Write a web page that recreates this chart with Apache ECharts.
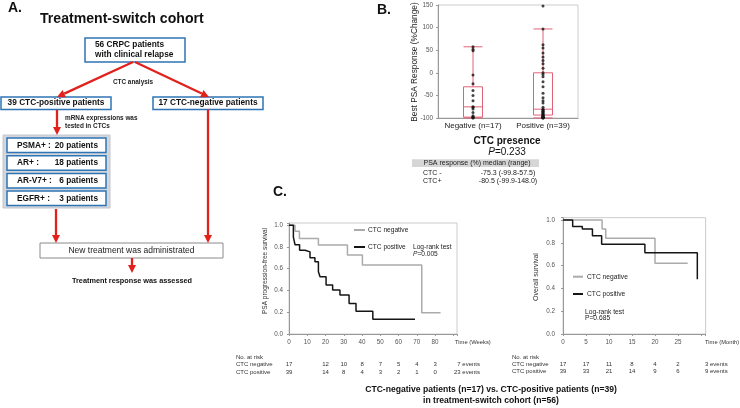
<!DOCTYPE html>
<html><head><meta charset="utf-8">
<script src="https://cdn.jsdelivr.net/npm/echarts@6/dist/echarts.min.js"></script>
<style>html,body{margin:0;padding:0;background:#fff}#c{width:740px;height:408px}</style>
</head><body><div id="c"></div>
<script>
// ---------- Panel B data ----------
const boxCategories = ['Negative (n=17)', 'Positive (n=39)'];
// [min, Q1, median, Q3, max(whisker)]
const negBoxStats = [-99.8, -98, -75.3, -31, 57.5];
const posBoxStats = [-99.9, -93.5, -80.5, 0, 97];
const negResponses = [57.5, 52, 49, -5, -24, -39, -50, -62, -75.3, -76, -80, -88, -95, -97, -98.5, -99.5, -99.8];
const posResponses = [148, 97, 62, 55, 44, 35, 27, 20, 10, 0, -4, -9, -20, -31, -45, -55, -62, -67, -76, -80.5,
  -82, -84, -85, -87, -88, -90, -91, -93, -93.5, -95, -96, -97, -98, -98.5, -99, -99.3, -99.5, -99.7, -99.9];
const boxYTicks = [-100, 150, 50];

// ---------- Panel C, PSA progression-free survival (weeks) ----------
const pfsNegTimes = [0, 3.3, 5.7, 16.1, 32, 40.2, 72.7, 83];
const pfsNegSurv  = [1, 0.945, 0.878, 0.817, 0.725, 0.633, 0.196, 0.196];
const pfsPosTimes = [0, 2.4, 3.3, 5.8, 8.8, 11.5, 14.2, 16.1, 17.0, 20.3, 23.9, 27.9, 32.9, 36.7, 45.9, 69];
const pfsPosSurv  = [1, 0.89, 0.82, 0.77, 0.755, 0.70, 0.664, 0.572, 0.526, 0.45, 0.404, 0.358, 0.28, 0.21, 0.135, 0.135];
const pfsRiskTimes = [0, 20, 30, 40, 50, 60, 70, 80];
const pfsRiskNeg = [17, 12, 10, 8, 7, 5, 4, 3];
const pfsRiskPos = [39, 14, 8, 4, 3, 2, 1, 0];

// ---------- Panel C, overall survival (months) ----------
const osNegTimes = [0, 8.5, 9.3, 20, 27.1];
const osNegSurv  = [1, 0.92, 0.84, 0.62, 0.62];
const osPosTimes = [0, 2.1, 4.2, 6.4, 8.4, 17.8, 29.2];
const osPosSurv  = [1, 0.942, 0.92, 0.862, 0.787, 0.713, 0.48];
const osRiskTimes = [0, 5, 10, 15, 20, 25];
const osRiskNeg = [17, 17, 11, 8, 4, 2];
const osRiskPos = [39, 33, 21, 14, 9, 6];

const FONT = '"Liberation Sans", Arial, sans-serif';
const RED = '#e3211c', BLUE = '#2f74b5', PINK = '#e06377', GRAYL = '#ababab', BLK = '#151515';

function zip(a, b) { return a.map((v, i) => [v, b[i]]); }
function txt(x, y, text, size, o) {
  o = o || {};
  const st = { text: text, fontSize: size, fontFamily: FONT, fontWeight: o.bold ? 'bold' : 'normal',
    fontStyle: o.italic ? 'italic' : 'normal', fill: o.color || '#111',
    align: o.align || 'left', verticalAlign: 'middle', textAlign: o.align || 'left', textVerticalAlign: 'middle' };
  if (o.rich) st.rich = o.rich;
  return { type: 'text', x: x, y: y, rotation: o.rot || 0, silent: true, z: 20, style: st };
}
function rect(x, y, w, h, fill, stroke, lw) {
  return { type: 'rect', shape: { x: x, y: y, width: w, height: h }, style: { fill: fill, stroke: stroke, lineWidth: lw || 0 }, silent: true, z: 5 };
}
function seg(x1, y1, x2, y2, stroke, lw) {
  return { type: 'line', shape: { x1: x1, y1: y1, x2: x2, y2: y2 }, style: { stroke: stroke, lineWidth: lw }, silent: true, z: 6 };
}
function arrow(x1, y1, x2, y2) {
  const a = Math.atan2(y2 - y1, x2 - x1), L = 8, W = 4;
  const bx = x2 - L * Math.cos(a), by = y2 - L * Math.sin(a);
  const px = -Math.sin(a) * W, py = Math.cos(a) * W;
  return [seg(x1, y1, bx, by, RED, 2.3),
    { type: 'polygon', shape: { points: [[x2, y2], [bx + px, by + py], [bx - px, by - py]] }, style: { fill: RED }, silent: true, z: 6 }];
}

const chart = echarts.init(document.getElementById('c'), null, { renderer: 'canvas' });

const axLabel = { fontSize: 6.3, color: '#555', fontFamily: FONT };
const axLine = { show: true, onZero: false, lineStyle: { color: '#999', width: 1 } };
const kmY = (gi) => ({ type: 'value', gridIndex: gi, min: 0, max: 1.02, interval: 0.2,
  axisLine: axLine, axisTick: { show: true, length: 2, lineStyle: { color: '#999' } }, splitLine: { show: false },
  axisLabel: Object.assign({}, axLabel, { margin: gi === 1 ? 6 : 8, formatter: v => v > 1.001 ? '' : v.toFixed(1) }) });

chart.setOption({
  animation: false,
  backgroundColor: '#fff',
  grid: [
    { left: 438, top: 5, width: 140, height: 113, show: true, borderColor: '#ccc', borderWidth: 1, backgroundColor: 'transparent' },
    { left: 289, top: 223, width: 168, height: 111, show: true, borderColor: '#ccc', borderWidth: 1, backgroundColor: 'transparent' },
    { left: 563, top: 217.7, width: 142.6, height: 116.3, show: true, borderColor: '#ccc', borderWidth: 1, backgroundColor: 'transparent' }
  ],
  xAxis: [
    { type: 'category', gridIndex: 0, data: boxCategories, axisLine: axLine, axisTick: { show: false },
      axisLabel: { fontSize: 8, color: '#222', fontFamily: FONT, margin: 4, interval: 0 } },
    { type: 'value', gridIndex: 1, min: 0, max: 92, interval: 10, axisLine: axLine,
      axisTick: { show: true, length: 2, lineStyle: { color: '#999' } }, splitLine: { show: false },
      axisLabel: Object.assign({}, axLabel, { margin: 5, formatter: v => v <= 80 ? String(v) : '' }) },
    { type: 'value', gridIndex: 2, min: 0, max: 31, interval: 5, axisLine: axLine,
      axisTick: { show: true, length: 2, lineStyle: { color: '#999' } }, splitLine: { show: false },
      axisLabel: Object.assign({}, axLabel, { margin: 5, formatter: v => v <= 25 ? String(v) : '' }) }
  ],
  yAxis: [
    { type: 'value', gridIndex: 0, min: boxYTicks[0], max: boxYTicks[1], interval: boxYTicks[2],
      axisLine: axLine, axisTick: { show: true, length: 2, lineStyle: { color: '#999' } }, splitLine: { show: false },
      axisLabel: Object.assign({}, axLabel, { margin: 5 }) },
    kmY(1), kmY(2)
  ],
  series: [
    { type: 'boxplot', xAxisIndex: 0, yAxisIndex: 0, boxWidth: [19, 19], data: [negBoxStats, posBoxStats],
      itemStyle: { color: '#fff', borderColor: PINK, borderWidth: 1 }, z: 2 },
    { type: 'scatter', xAxisIndex: 0, yAxisIndex: 0, symbolSize: 3, itemStyle: { color: BLK }, z: 5,
      data: negResponses.map(v => [0, v]).concat(posResponses.map(v => [1, v])) },
    { type: 'line', xAxisIndex: 1, yAxisIndex: 1, step: 'end', showSymbol: false, data: zip(pfsNegTimes, pfsNegSurv),
      lineStyle: { color: GRAYL, width: 1.5 }, itemStyle: { color: GRAYL }, z: 3 },
    { type: 'line', xAxisIndex: 1, yAxisIndex: 1, step: 'end', showSymbol: false, data: zip(pfsPosTimes, pfsPosSurv),
      lineStyle: { color: BLK, width: 1.5 }, itemStyle: { color: BLK }, z: 4 },
    { type: 'line', xAxisIndex: 2, yAxisIndex: 2, step: 'end', showSymbol: false, data: zip(osNegTimes, osNegSurv),
      lineStyle: { color: GRAYL, width: 1.5 }, itemStyle: { color: GRAYL }, z: 3 },
    { type: 'line', xAxisIndex: 2, yAxisIndex: 2, step: 'end', showSymbol: false, data: zip(osPosTimes, osPosSurv),
      lineStyle: { color: BLK, width: 1.5 }, itemStyle: { color: BLK }, z: 4 }
  ]
});

// ---------- annotations / flowchart ----------
const g = [];
// Panel labels
g.push(txt(8, 8, 'A.', 14, { bold: true }));
g.push(txt(377, 10, 'B.', 14, { bold: true }));
g.push(txt(273, 192, 'C.', 14, { bold: true }));
// Panel A
g.push(txt(40, 19, 'Treatment-switch cohort', 14.1, { bold: true }));
g.push(rect(85, 38, 100, 24, '#fff', BLUE, 1.5));
g.push(txt(95, 45, '56 CRPC patients', 8.3, { bold: true }));
g.push(txt(95, 55, 'with clinical relapse', 8.3, { bold: true }));
g.push(...arrow(133, 62, 57, 97));
g.push(...arrow(135, 62, 209, 97));
g.push(txt(133, 82, 'CTC analysis', 6.4, { bold: true, align: 'center', color: '#222' }));
g.push(rect(1, 97, 110, 12.5, '#fff', BLUE, 1.5));
g.push(txt(56, 103.2, '39 CTC-positive patients', 8.3, { bold: true, align: 'center' }));
g.push(rect(153, 97, 110, 12.5, '#fff', BLUE, 1.5));
g.push(txt(208, 103.2, '17 CTC-negative patients', 8.3, { bold: true, align: 'center' }));
g.push(...arrow(57, 110, 57, 135));
g.push(txt(65, 118, 'mRNA expressions was', 6.4, { bold: true, color: '#222' }));
g.push(txt(65, 126, 'tested in CTCs', 6.4, { bold: true, color: '#222' }));
g.push(rect(3, 135, 107, 73, '#d3d7dd', '#c2c6cc', 1));
const markerRows = [['PSMA+ :', '20 patients'], ['AR+ :', '18 patients'], ['AR-V7+ :', '6 patients'], ['EGFR+ :', '3 patients']];
const rowTops = [138, 155.7, 173.4, 191];
markerRows.forEach((r, i) => {
  g.push(rect(7, rowTops[i], 99, 14.5, '#fff', BLUE, 1.5));
  g.push(txt(17, rowTops[i] + 7.4, r[0], 8.3, { bold: true }));
  g.push(txt(98, rowTops[i] + 7.4, r[1], 8.3, { bold: true, align: 'right' }));
});
g.push(...arrow(56, 209, 56, 243));
g.push(...arrow(208, 109.5, 208, 243));
g.push(rect(40, 243, 183, 15, '#fff', '#8a8a8a', 1));
g.push(txt(131.5, 250.7, 'New treatment was administrated', 8.5, { align: 'center', color: '#222' }));
g.push(...arrow(132, 258, 132, 273));
g.push(txt(132, 281, 'Treatment response was assessed', 7.3, { bold: true, align: 'center' }));

// Panel B texts
g.push(txt(415, 62, 'Best PSA Response (%Change)', 8.3, { rot: Math.PI / 2, align: 'center', color: '#222' }));
g.push(txt(507, 141, 'CTC presence', 10, { bold: true, align: 'center' }));
g.push(txt(507, 152, '{i|P}=0.233', 10, { align: 'center', rich: { i: { fontStyle: 'italic', fontSize: 10, fontFamily: FONT } } }));
g.push(rect(412, 159.3, 127, 7.6, '#d6d6d6', null, 0));
g.push(txt(477, 163.2, 'PSA response (%) median (range)', 7, { align: 'center', color: '#222' }));
g.push(txt(423, 173, 'CTC -', 7, { color: '#222' }));
g.push(txt(423, 181, 'CTC+', 7, { color: '#222' }));
g.push(txt(508, 173, '-75.3 (-99.8-57.5)', 7, { align: 'center', color: '#222' }));
g.push(txt(508, 181, '-80.5 (-99.9-148.0)', 7, { align: 'center', color: '#222' }));

// Panel C left
g.push(txt(265, 271, 'PSA progression-free survival', 6.5, { rot: Math.PI / 2, align: 'center', color: '#333' }));
g.push(txt(455, 342.5, 'Time (Weeks)', 5.8, { color: '#333' }));
g.push(seg(354, 230, 365, 230, GRAYL, 2));
g.push(txt(368, 230, 'CTC negative', 6.6, { color: '#222' }));
g.push(seg(354, 247, 365, 247, BLK, 2));
g.push(txt(368, 247, 'CTC positive', 6.6, { color: '#222' }));
g.push(txt(413, 247.5, 'Log-rank test', 6.6, { color: '#222' }));
g.push(txt(413, 254.5, '{i|P}=0.005', 6.6, { color: '#222', rich: { i: { fontStyle: 'italic', fontSize: 6.6, fontFamily: FONT } } }));
g.push(txt(236, 357, 'No. at risk', 6, { color: '#333' }));
g.push(txt(236, 364.5, 'CTC negative', 6, { color: '#333' }));
g.push(txt(236, 372, 'CTC positive', 6, { color: '#333' }));
pfsRiskTimes.forEach((t, i) => {
  const x = chart.convertToPixel({ xAxisIndex: 1 }, t);
  g.push(txt(x, 364.5, String(pfsRiskNeg[i]), 6, { align: 'center', color: '#333' }));
  g.push(txt(x, 372, String(pfsRiskPos[i]), 6, { align: 'center', color: '#333' }));
});
g.push(txt(480, 364.5, '7 events', 6, { align: 'right', color: '#333' }));
g.push(txt(480, 372, '23 events', 6, { align: 'right', color: '#333' }));

// Panel C right
g.push(txt(536, 277, 'Overall survival', 7, { rot: Math.PI / 2, align: 'center', color: '#333' }));
g.push(txt(705, 342.5, 'Time (Month)', 5.8, { color: '#333' }));
g.push(seg(573, 276.7, 583, 276.7, GRAYL, 2));
g.push(txt(587, 276.7, 'CTC negative', 6.7, { color: '#222' }));
g.push(seg(573, 294, 583, 294, BLK, 2));
g.push(txt(587, 294, 'CTC positive', 6.7, { color: '#222' }));
g.push(txt(585, 311.7, 'Log-rank test', 6.7, { color: '#222' }));
g.push(txt(585, 318.5, 'P=0.685', 6.7, { color: '#222' }));
g.push(txt(512, 357.5, 'No. at risk', 6, { color: '#333' }));
g.push(txt(512, 364, 'CTC negative', 6, { color: '#333' }));
g.push(txt(512, 371.5, 'CTC positive', 6, { color: '#333' }));
osRiskTimes.forEach((t, i) => {
  const x = chart.convertToPixel({ xAxisIndex: 2 }, t);
  g.push(txt(x, 364, String(osRiskNeg[i]), 6, { align: 'center', color: '#333' }));
  g.push(txt(x, 371.5, String(osRiskPos[i]), 6, { align: 'center', color: '#333' }));
});
g.push(txt(705, 364, '3 events', 6, { color: '#333' }));
g.push(txt(705, 371.5, '9 events', 6, { color: '#333' }));

// Caption
g.push(txt(491, 390, 'CTC-negative patients (n=17) vs. CTC-positive patients (n=39)', 8.6, { bold: true, align: 'center' }));
g.push(txt(491, 400.5, 'in treatment-switch cohort (n=56)', 8.6, { bold: true, align: 'center' }));

chart.setOption({ graphic: { elements: g } });
</script>
</body></html>
